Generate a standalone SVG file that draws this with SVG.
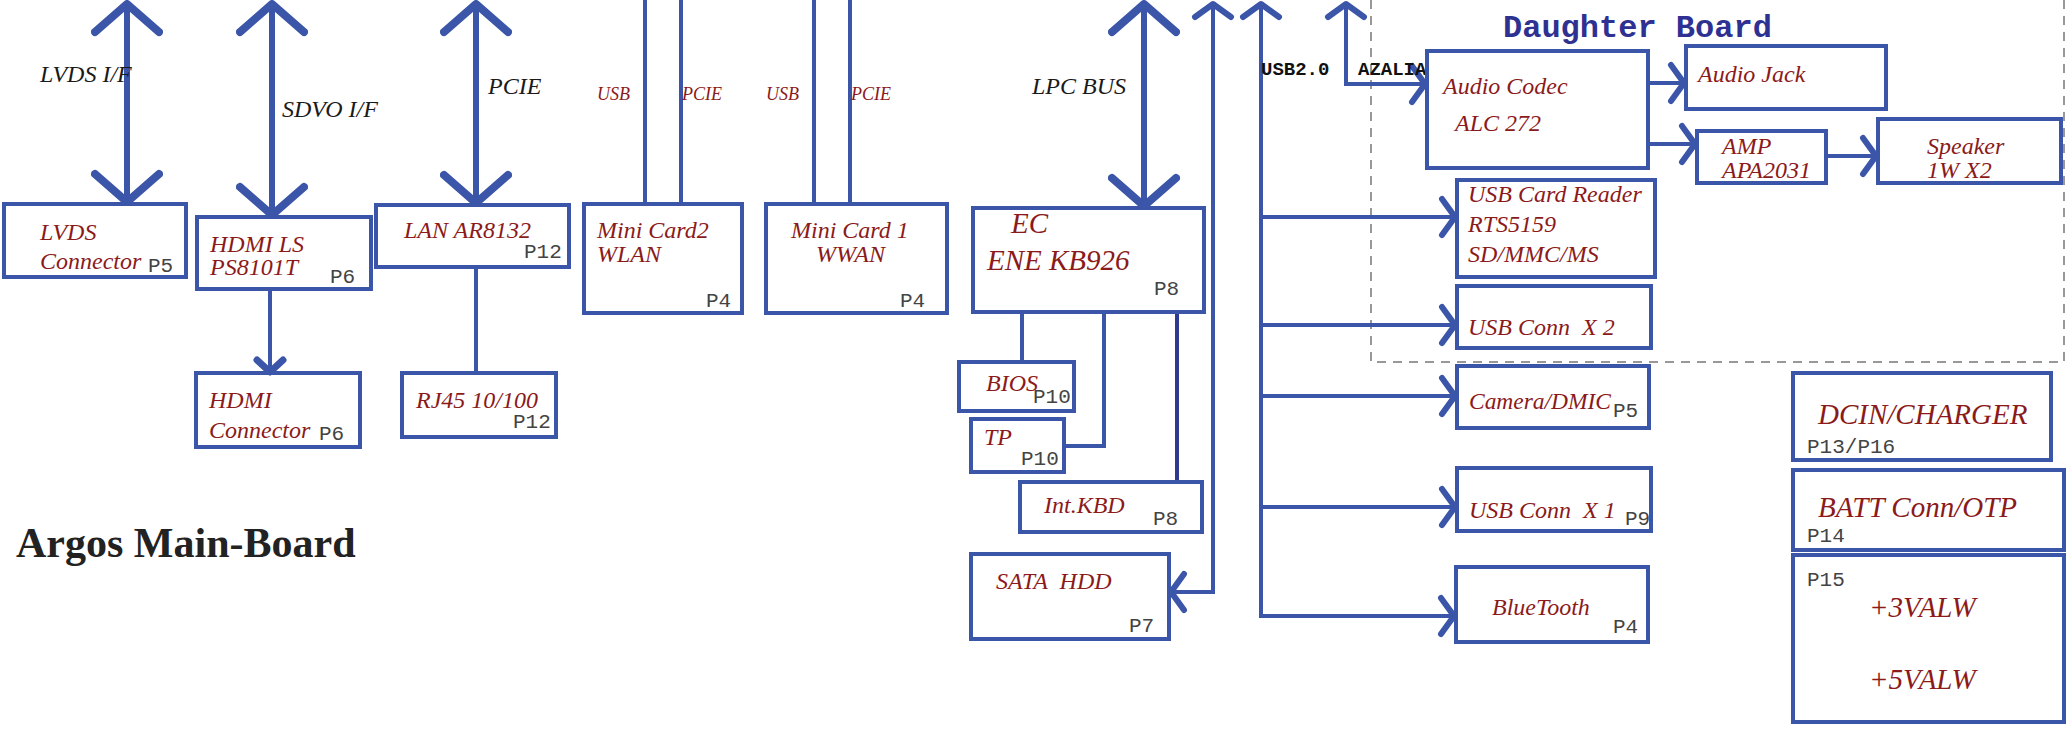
<svg xmlns="http://www.w3.org/2000/svg" width="2067" height="732" viewBox="0 0 2067 732">
<style>
.box{fill:none;stroke:#3b55a8;stroke-width:4}
.ln{fill:none;stroke:#3b55a8;stroke-width:4}
.dk{stroke:#2e3a8f}
.bus{fill:none;stroke:#3b55a8;stroke-width:6;stroke-linecap:round}
.dash{fill:none;stroke:#777;stroke-width:1.5;stroke-dasharray:9 7}
.t{font-family:"Liberation Serif",serif;font-style:italic;fill:#8b1a1a;font-size:24px}
.big{font-size:29px}
.sm{font-size:18px}
.k{font-family:"Liberation Serif",serif;font-style:italic;fill:#1a1a1a;font-size:24px}
.p{font-family:"Liberation Mono",monospace;fill:#444;font-size:21px}
.m{font-family:"Liberation Mono",monospace;font-weight:bold;fill:#111;font-size:19px}
.db{font-family:"Liberation Mono",monospace;font-weight:bold;fill:#2e3192;font-size:32px}
.title{font-family:"Liberation Serif",serif;font-weight:bold;fill:#222;font-size:42px}
</style>
<defs>
<marker id="big" viewBox="-36 -36 40 72" refX="0" refY="0" markerWidth="40" markerHeight="72" markerUnits="userSpaceOnUse" orient="auto-start-reverse">
<path d="M-28,-32 L0,0 L-28,32" fill="none" stroke="#3b55a8" stroke-width="8" stroke-linecap="round" stroke-linejoin="round"/>
</marker>
<marker id="ar" viewBox="-20 -24 24 48" refX="0" refY="0" markerWidth="24" markerHeight="48" markerUnits="userSpaceOnUse" orient="auto-start-reverse">
<path d="M-13,-18 L0,0 L-13,18" fill="none" stroke="#3b55a8" stroke-width="6" stroke-linecap="round" stroke-linejoin="round"/>
</marker>
<marker id="sm" viewBox="-18 -18 22 36" refX="0" refY="0" markerWidth="22" markerHeight="36" markerUnits="userSpaceOnUse" orient="auto-start-reverse">
<path d="M-12,-13 L0,0 L-12,13" fill="none" stroke="#3b55a8" stroke-width="7" stroke-linecap="round" stroke-linejoin="round"/>
</marker>
</defs>
<rect width="2067" height="732" fill="#fff"/>

<g id="daughter-board">
<path class="dash" d="M1371,0 V362 H2064 V0"/>
<text class="db" x="1503" y="37">Daughter Board</text>
</g>

<g id="connectors">
<line class="bus" x1="127" y1="4" x2="127" y2="202" marker-start="url(#big)" marker-end="url(#big)"/>
<line class="bus" x1="272" y1="4" x2="272" y2="215" marker-start="url(#big)" marker-end="url(#big)"/>
<line class="bus" x1="476" y1="4" x2="476" y2="203" marker-start="url(#big)" marker-end="url(#big)"/>
<line class="bus" x1="1144" y1="4" x2="1144" y2="206" marker-start="url(#big)" marker-end="url(#big)"/>
<line class="ln" x1="645" y1="0" x2="645" y2="204"/>
<line class="ln" x1="681" y1="0" x2="681" y2="204"/>
<line class="ln" x1="814" y1="0" x2="814" y2="204"/>
<line class="ln" x1="850" y1="0" x2="850" y2="204"/>
<line class="ln" x1="270" y1="289" x2="270" y2="372" marker-end="url(#sm)"/>
<line class="ln" x1="476" y1="267" x2="476" y2="373"/>
<line class="ln" x1="1022" y1="312" x2="1022" y2="362"/>
<polyline class="ln" points="1104,312 1104,446 1064,446"/>
<line class="ln dk" x1="1177" y1="312" x2="1177" y2="482"/>
<polyline class="ln" points="1213,4 1213,592 1171,592" marker-start="url(#ar)" marker-end="url(#ar)"/>
<polyline class="ln" points="1261,4 1261,616 1454,616" marker-start="url(#ar)" marker-end="url(#ar)"/>
<line class="ln" x1="1261" y1="217" x2="1455" y2="217" marker-end="url(#ar)"/>
<line class="ln" x1="1261" y1="325" x2="1455" y2="325" marker-end="url(#ar)"/>
<line class="ln" x1="1261" y1="396" x2="1455" y2="396" marker-end="url(#ar)"/>
<line class="ln" x1="1261" y1="507" x2="1455" y2="507" marker-end="url(#ar)"/>
<polyline class="ln" points="1346,4 1346,84 1425,84" marker-start="url(#ar)" marker-end="url(#ar)"/>
<line class="ln" x1="1648" y1="83" x2="1684" y2="83" marker-end="url(#ar)"/>
<line class="ln" x1="1648" y1="144" x2="1695" y2="144" marker-end="url(#ar)"/>
<line class="ln" x1="1828" y1="156" x2="1876" y2="156" stroke-width="6" marker-end="url(#ar)"/>
<text class="k" x="40" y="82">LVDS I/F</text>
<text class="k" x="282" y="117">SDVO I/F</text>
<text class="k" x="488" y="94">PCIE</text>
<text class="k" x="1032" y="94">LPC BUS</text>
<text class="t sm" x="597" y="100">USB</text>
<text class="t sm" x="682" y="100">PCIE</text>
<text class="t sm" x="766" y="100">USB</text>
<text class="t sm" x="851" y="100">PCIE</text>
<text class="m" x="1261" y="75">USB2.0</text>
<text class="m" x="1358" y="75">AZALIA</text>
</g>

<g id="lvds-connector">
<rect class="box" x="4" y="204" width="182" height="73"/>
<text class="t" x="40" y="240">LVDS</text>
<text class="t" x="40" y="269">Connector</text>
<text class="p" x="148" y="272">P5</text>
</g>
<g id="hdmi-ls">
<rect class="box" x="197" y="217" width="174" height="72"/>
<text class="t" x="210" y="252">HDMI LS</text>
<text class="t" x="210" y="275">PS8101T</text>
<text class="p" x="330" y="283">P6</text>
</g>
<g id="lan">
<rect class="box" x="376" y="205" width="193" height="62"/>
<text class="t" x="404" y="238">LAN AR8132</text>
<text class="p" x="524" y="258">P12</text>
</g>
<g id="minicard2">
<rect class="box" x="584" y="204" width="158" height="109"/>
<text class="t" x="597" y="238">Mini Card2</text>
<text class="t" x="597" y="262">WLAN</text>
<text class="p" x="706" y="307">P4</text>
</g>
<g id="minicard1">
<rect class="box" x="766" y="204" width="181" height="109"/>
<text class="t" x="791" y="238">Mini Card 1</text>
<text class="t" x="816" y="262">WWAN</text>
<text class="p" x="900" y="307">P4</text>
</g>
<g id="ec">
<rect class="box" x="973" y="208" width="231" height="104"/>
<text class="t big" x="1011" y="233">EC</text>
<text class="t big" x="987" y="270">ENE KB926</text>
<text class="p" x="1154" y="295">P8</text>
</g>
<g id="bios">
<rect class="box" x="959" y="362" width="115" height="49"/>
<text class="t" x="986" y="391">BIOS</text>
<text class="p" x="1033" y="403">P10</text>
</g>
<g id="tp">
<rect class="box" x="971" y="419" width="93" height="53"/>
<text class="t" x="984" y="445">TP</text>
<text class="p" x="1021" y="465">P10</text>
</g>
<g id="int-kbd">
<rect class="box" x="1020" y="482" width="182" height="50"/>
<text class="t" x="1044" y="513">Int.KBD</text>
<text class="p" x="1153" y="525">P8</text>
</g>
<g id="sata-hdd">
<rect class="box" x="971" y="554" width="198" height="85"/>
<text class="t" x="996" y="589" xml:space="preserve">SATA  HDD</text>
<text class="p" x="1129" y="632">P7</text>
</g>
<g id="hdmi-connector">
<rect class="box" x="196" y="373" width="164" height="74"/>
<text class="t" x="209" y="408">HDMI</text>
<text class="t" x="209" y="438">Connector</text>
<text class="p" x="319" y="440">P6</text>
</g>
<g id="rj45">
<rect class="box" x="402" y="373" width="154" height="64"/>
<text class="t" x="416" y="408">RJ45 10/100</text>
<text class="p" x="513" y="428">P12</text>
</g>
<g id="audio-codec">
<rect class="box" x="1427" y="51" width="221" height="117"/>
<text class="t" x="1443" y="94">Audio Codec</text>
<text class="t" x="1455" y="131">ALC 272</text>
</g>
<g id="audio-jack">
<rect class="box" x="1686" y="46" width="200" height="63"/>
<text class="t" x="1698" y="82">Audio Jack</text>
</g>
<g id="amp">
<rect class="box" x="1697" y="131" width="129" height="52"/>
<text class="t" x="1722" y="154">AMP</text>
<text class="t" x="1722" y="178">APA2031</text>
</g>
<g id="speaker">
<rect class="box" x="1878" y="119" width="183" height="64"/>
<text class="t" x="1927" y="154">Speaker</text>
<text class="t" x="1927" y="178">1W X2</text>
</g>
<g id="usb-card-reader">
<rect class="box" x="1457" y="180" width="198" height="97"/>
<text class="t" x="1468" y="202">USB Card Reader</text>
<text class="t" x="1468" y="232">RTS5159</text>
<text class="t" x="1468" y="262">SD/MMC/MS</text>
</g>
<g id="usb-conn-x2">
<rect class="box" x="1457" y="286" width="194" height="62"/>
<text class="t" x="1468" y="335" xml:space="preserve">USB Conn  X 2</text>
</g>
<g id="camera">
<rect class="box" x="1457" y="366" width="192" height="62"/>
<text class="t" x="1469" y="409" textLength="142" lengthAdjust="spacingAndGlyphs">Camera/DMIC</text>
<text class="p" x="1613" y="417">P5</text>
</g>
<g id="usb-conn-x1">
<rect class="box" x="1457" y="468" width="194" height="63"/>
<text class="t" x="1469" y="518" xml:space="preserve">USB Conn  X 1</text>
<text class="p" x="1625" y="525">P9</text>
</g>
<g id="bluetooth">
<rect class="box" x="1456" y="567" width="192" height="75"/>
<text class="t" x="1492" y="615">BlueTooth</text>
<text class="p" x="1613" y="633">P4</text>
</g>
<g id="dcin">
<rect class="box" x="1793" y="373" width="258" height="87"/>
<text class="t big" x="1818" y="424">DCIN/CHARGER</text>
<text class="p" x="1807" y="453">P13/P16</text>
</g>
<g id="batt">
<rect class="box" x="1793" y="470" width="271" height="80"/>
<text class="t big" x="1818" y="517">BATT Conn/OTP</text>
<text class="p" x="1807" y="542">P14</text>
</g>
<g id="power">
<rect class="box" x="1793" y="555" width="271" height="167"/>
<text class="p" x="1807" y="586">P15</text>
<text class="t big" x="1869" y="617">+3VALW</text>
<text class="t big" x="1869" y="689">+5VALW</text>
</g>
<g id="title">
<text class="title" x="16" y="557">Argos Main-Board</text>
</g>
</svg>
